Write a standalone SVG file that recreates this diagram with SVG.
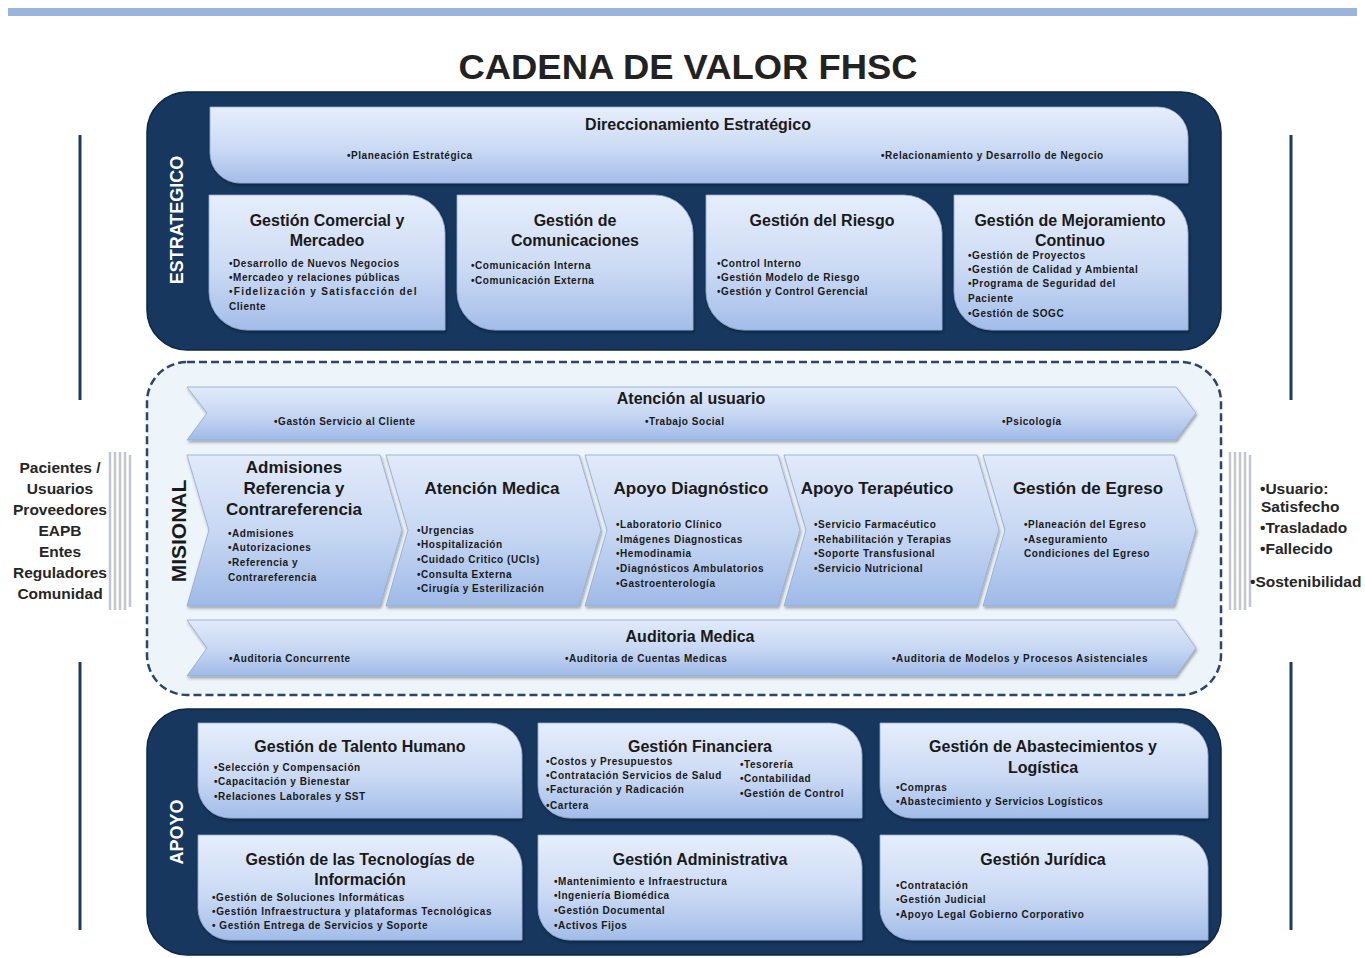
<svg xmlns="http://www.w3.org/2000/svg" width="1365" height="958" viewBox="0 0 1365 958">
<defs>
<linearGradient id="gBox" x1="0" y1="0" x2="0" y2="1">
<stop offset="0" stop-color="#e6eefb"/>
<stop offset="0.55" stop-color="#cbdaf4"/>
<stop offset="1" stop-color="#a3bde9"/>
</linearGradient>
<linearGradient id="gChev" x1="0" y1="0" x2="0" y2="1">
<stop offset="0" stop-color="#e1eaf9"/>
<stop offset="0.5" stop-color="#c8d8f3"/>
<stop offset="1" stop-color="#9fbae7"/>
</linearGradient>
<filter id="sh" x="-5%" y="-5%" width="110%" height="115%">
<feDropShadow dx="1" dy="2" stdDeviation="1.5" flood-color="#000" flood-opacity="0.35"/>
</filter>
<style>
.panel{fill:#17375e;stroke:#0e2646;stroke-width:1.5}
.box{fill:url(#gBox);stroke:#90a9d6;stroke-width:0.8;filter:url(#sh)}
.chev{fill:url(#gChev);stroke:#8fa8d4;stroke-width:0.8;filter:url(#sh)}
.t{font-family:"Liberation Sans",Arial,sans-serif;font-weight:bold;font-size:16px;fill:#1a1a1a;text-anchor:middle}
.tc{font-family:"Liberation Sans",Arial,sans-serif;font-weight:bold;font-size:17px;fill:#1a1a1a;text-anchor:middle}
.b{font-family:"Liberation Sans",Arial,sans-serif;font-weight:bold;font-size:10px;fill:#1a1a1a;letter-spacing:0.55px}
.side{font-family:"Liberation Sans",Arial,sans-serif;font-weight:bold;font-size:15.5px;fill:#262626}
.vl{font-family:"Liberation Sans",Arial,sans-serif;font-weight:bold;font-size:18px;fill:#ffffff;text-anchor:middle}
.vm{font-family:"Liberation Sans",Arial,sans-serif;font-weight:bold;font-size:21px;fill:#1a1a1a;text-anchor:middle}
.line{stroke:#1f3864;stroke-width:3}
.stripe{stroke:#c2c6d0;stroke-width:2.5}
</style>
</defs>

<rect x="8" y="8" width="1349" height="8" fill="#9ab4dc"/>
<text x="688" y="79" font-family="Liberation Sans, Arial, sans-serif" font-weight="bold" font-size="35" fill="#222" text-anchor="middle" textLength="459" lengthAdjust="spacingAndGlyphs">CADENA DE VALOR FHSC</text>

<g id="connectors">
<line class="line" x1="80" y1="135" x2="80" y2="400"/>
<line class="line" x1="80" y1="662" x2="80" y2="930"/>
<line class="line" x1="1291" y1="135" x2="1291" y2="400"/>
<line class="line" x1="1291" y1="662" x2="1291" y2="930"/>
<g id="arrow-in">
<line class="stripe" x1="110" y1="452" x2="110" y2="610"/>
<line class="stripe" x1="115" y1="452" x2="115" y2="610"/>
<line class="stripe" x1="120" y1="452" x2="120" y2="610"/>
<line class="stripe" x1="125" y1="452" x2="125" y2="610"/>
<line class="stripe" x1="130" y1="455" x2="130" y2="607" stroke-width="3"/>
</g>
<g id="arrow-out">
<line class="stripe" x1="1230" y1="452" x2="1230" y2="610"/>
<line class="stripe" x1="1235" y1="452" x2="1235" y2="610"/>
<line class="stripe" x1="1240" y1="452" x2="1240" y2="610"/>
<line class="stripe" x1="1245" y1="452" x2="1245" y2="610"/>
<line class="stripe" x1="1250" y1="455" x2="1250" y2="607" stroke-width="3"/>
</g>
</g>

<g id="inputs">
<text class="side" text-anchor="middle" x="60" y="473">Pacientes /</text>
<text class="side" text-anchor="middle" x="60" y="494">Usuarios</text>
<text class="side" text-anchor="middle" x="60" y="515">Proveedores</text>
<text class="side" text-anchor="middle" x="60" y="536">EAPB</text>
<text class="side" text-anchor="middle" x="60" y="557">Entes</text>
<text class="side" text-anchor="middle" x="60" y="578">Reguladores</text>
<text class="side" text-anchor="middle" x="60" y="599">Comunidad</text>
</g>
<g id="outputs">
<text class="side" x="1260" y="494">•Usuario:</text>
<text class="side" x="1261" y="512">Satisfecho</text>
<text class="side" x="1260" y="533">•Trasladado</text>
<text class="side" x="1260" y="554">•Fallecido</text>
<text class="side" x="1250" y="587">•Sostenibilidad</text>
</g>

<g id="estrategico">
<rect class="panel" x="147" y="92" width="1074" height="258" rx="40"/>
<text class="vl" transform="translate(183,220) rotate(-90)">ESTRATEGICO</text>
</g>

<g id="direccionamiento">
<path class="box" d="M210,107 H1158 A30,30 0 0 1 1188,137 V183 H240 A30,30 0 0 1 210,153 Z"/>
<text class="t" x="698" y="130">Direccionamiento Estratégico</text>
<text class="b" x="347" y="159">•Planeación Estratégica</text>
<text class="b" x="881" y="159">•Relacionamiento y Desarrollo de Negocio</text>
</g>

<g id="comercial">
<path class="box" d="M209,195 H407 A38,38 0 0 1 445,233 V330 H247 A38,38 0 0 1 209,292 Z"/>
<text class="t" x="327" y="226">Gestión Comercial y</text>
<text class="t" x="327" y="246">Mercadeo</text>
<text class="b" x="229" y="267">•Desarrollo de Nuevos Negocios</text>
<text class="b" x="229" y="281">•Mercadeo y relaciones públicas</text>
<text class="b" x="229" y="295" textLength="188">•Fidelización y Satisfacción del</text>
<text class="b" x="229" y="310">Cliente</text>
</g>

<g id="comunicaciones">
<path class="box" d="M457,195 H655 A38,38 0 0 1 693,233 V330 H495 A38,38 0 0 1 457,292 Z"/>
<text class="t" x="575" y="226">Gestión de</text>
<text class="t" x="575" y="246">Comunicaciones</text>
<text class="b" x="471" y="269">•Comunicación Interna</text>
<text class="b" x="471" y="284">•Comunicación Externa</text>
</g>

<g id="riesgo">
<path class="box" d="M706,195 H904 A38,38 0 0 1 942,233 V330 H744 A38,38 0 0 1 706,292 Z"/>
<text class="t" x="822" y="226">Gestión del Riesgo</text>
<text class="b" x="717" y="267">•Control Interno</text>
<text class="b" x="717" y="281">•Gestión Modelo de Riesgo</text>
<text class="b" x="717" y="295">•Gestión y Control Gerencial</text>
</g>

<g id="mejoramiento">
<path class="box" d="M954,195 H1150 A38,38 0 0 1 1188,233 V330 H992 A38,38 0 0 1 954,292 Z"/>
<text class="t" x="1070" y="226">Gestión de Mejoramiento</text>
<text class="t" x="1070" y="246">Continuo</text>
<text class="b" x="968" y="259">•Gestión de Proyectos</text>
<text class="b" x="968" y="273">•Gestión de Calidad y Ambiental</text>
<text class="b" x="968" y="287">•Programa de Seguridad del</text>
<text class="b" x="968" y="302">Paciente</text>
<text class="b" x="968" y="317">•Gestión de SOGC</text>
</g>

<g id="misional">
<rect x="147" y="362" width="1074" height="333" rx="40" fill="#eef5fa" stroke="#2a4670" stroke-width="2.5" stroke-dasharray="8 4"/>
<text class="vm" transform="translate(186,531) rotate(-90)">MISIONAL</text>
</g>

<g id="atencion-usuario">
<polygon class="chev" points="187,387 1176,387 1196,413 1176,440 187,440 207,413"/>
<text class="t" x="691" y="404">Atención al usuario</text>
<text class="b" x="274" y="425">•Gastón Servicio al Cliente</text>
<text class="b" x="645" y="425">•Trabajo Social</text>
<text class="b" x="1002" y="425">•Psicología</text>
</g>

<g id="admisiones">
<polygon class="chev" points="187,455 380,455 402,530 380,606 187,606 209,530"/>
<text class="tc" x="294" y="473">Admisiones</text>
<text class="tc" x="294" y="494">Referencia y</text>
<text class="tc" x="294" y="515">Contrareferencia</text>
<text class="b" x="228" y="537">•Admisiones</text>
<text class="b" x="228" y="551">•Autorizaciones</text>
<text class="b" x="228" y="566">•Referencia y</text>
<text class="b" x="228" y="581">Contrareferencia</text>
</g>

<g id="atencion-medica">
<polygon class="chev" points="386,455 579,455 601,530 579,606 386,606 408,530"/>
<text class="tc" x="492" y="494">Atención Medica</text>
<text class="b" x="417" y="534">•Urgencias</text>
<text class="b" x="417" y="548">•Hospitalización</text>
<text class="b" x="417" y="563">•Cuidado Critico (UCIs)</text>
<text class="b" x="417" y="578">•Consulta Externa</text>
<text class="b" x="417" y="592">•Cirugía y Esterilización</text>
</g>

<g id="apoyo-diagnostico">
<polygon class="chev" points="585,455 778,455 800,530 778,606 585,606 607,530"/>
<text class="tc" x="691" y="494">Apoyo Diagnóstico</text>
<text class="b" x="616" y="528">•Laboratorio Clínico</text>
<text class="b" x="616" y="543">•Imágenes Diagnosticas</text>
<text class="b" x="616" y="557">•Hemodinamia</text>
<text class="b" x="616" y="572" textLength="148">•Diagnósticos Ambulatorios</text>
<text class="b" x="616" y="587">•Gastroenterología</text>
</g>

<g id="apoyo-terapeutico">
<polygon class="chev" points="784,455 977,455 999,530 977,606 784,606 806,530"/>
<text class="tc" x="877" y="494">Apoyo Terapéutico</text>
<text class="b" x="814" y="528">•Servicio Farmacéutico</text>
<text class="b" x="814" y="543">•Rehabilitación y Terapias</text>
<text class="b" x="814" y="557">•Soporte Transfusional</text>
<text class="b" x="814" y="572">•Servicio Nutricional</text>
</g>

<g id="egreso">
<polygon class="chev" points="983,455 1174,455 1196,530 1174,606 983,606 1005,530"/>
<text class="tc" x="1088" y="494">Gestión de Egreso</text>
<text class="b" x="1024" y="528">•Planeación del Egreso</text>
<text class="b" x="1024" y="543">•Aseguramiento</text>
<text class="b" x="1024" y="557">Condiciones del Egreso</text>
</g>

<g id="auditoria">
<polygon class="chev" points="187,620 1176,620 1196,648 1176,676 187,676 207,648"/>
<text class="t" x="690" y="642">Auditoria Medica</text>
<text class="b" x="229" y="662">•Auditoria Concurrente</text>
<text class="b" x="565" y="662">•Auditoria de Cuentas Medicas</text>
<text class="b" x="892" y="662" textLength="256">•Auditoria de Modelos y Procesos Asistenciales</text>
</g>

<g id="apoyo">
<rect class="panel" x="147" y="709" width="1074" height="246" rx="40"/>
<text class="vl" transform="translate(183,832) rotate(-90)">APOYO</text>
</g>

<g id="talento-humano">
<path class="box" d="M198,723 H490 A32,32 0 0 1 522,755 V818 H230 A32,32 0 0 1 198,786 Z"/>
<text class="t" x="360" y="752">Gestión de Talento Humano</text>
<text class="b" x="214" y="771">•Selección y Compensación</text>
<text class="b" x="214" y="785">•Capacitación y Bienestar</text>
<text class="b" x="214" y="800">•Relaciones Laborales y SST</text>
</g>

<g id="financiera">
<path class="box" d="M538,723 H830 A32,32 0 0 1 862,755 V818 H570 A32,32 0 0 1 538,786 Z"/>
<text class="t" x="700" y="752">Gestión Financiera</text>
<text class="b" x="546" y="765">•Costos y Presupuestos</text>
<text class="b" x="546" y="779" textLength="176">•Contratación Servicios de Salud</text>
<text class="b" x="546" y="793">•Facturación y Radicación</text>
<text class="b" x="546" y="809">•Cartera</text>
<text class="b" x="740" y="768">•Tesorería</text>
<text class="b" x="740" y="782">•Contabilidad</text>
<text class="b" x="740" y="797" textLength="104">•Gestión de Control</text>
</g>

<g id="abastecimientos">
<path class="box" d="M880,723 H1176 A32,32 0 0 1 1208,755 V818 H912 A32,32 0 0 1 880,786 Z"/>
<text class="t" x="1043" y="752">Gestión de Abastecimientos y</text>
<text class="t" x="1043" y="773">Logística</text>
<text class="b" x="896" y="791">•Compras</text>
<text class="b" x="896" y="805">•Abastecimiento y Servicios Logísticos</text>
</g>

<g id="tecnologias">
<path class="box" d="M198,835 H490 A32,32 0 0 1 522,867 V940 H230 A32,32 0 0 1 198,908 Z"/>
<text class="t" x="360" y="865">Gestión de las Tecnologías de</text>
<text class="t" x="360" y="885">Información</text>
<text class="b" x="212" y="901">•Gestión de Soluciones Informáticas</text>
<text class="b" x="212" y="915" textLength="280">•Gestión Infraestructura y plataformas Tecnológicas</text>
<text class="b" x="212" y="929" textLength="216">• Gestión Entrega de Servicios y Soporte</text>
</g>

<g id="administrativa">
<path class="box" d="M538,835 H830 A32,32 0 0 1 862,867 V940 H570 A32,32 0 0 1 538,908 Z"/>
<text class="t" x="700" y="865">Gestión Administrativa</text>
<text class="b" x="554" y="885">•Mantenimiento e Infraestructura</text>
<text class="b" x="554" y="899">•Ingeniería Biomédica</text>
<text class="b" x="554" y="914">•Gestión Documental</text>
<text class="b" x="554" y="929">•Activos Fijos</text>
</g>

<g id="juridica">
<path class="box" d="M880,835 H1176 A32,32 0 0 1 1208,867 V940 H912 A32,32 0 0 1 880,908 Z"/>
<text class="t" x="1043" y="865">Gestión Jurídica</text>
<text class="b" x="896" y="889">•Contratación</text>
<text class="b" x="896" y="903">•Gestión Judicial</text>
<text class="b" x="896" y="918">•Apoyo Legal Gobierno Corporativo</text>
</g>
</svg>
